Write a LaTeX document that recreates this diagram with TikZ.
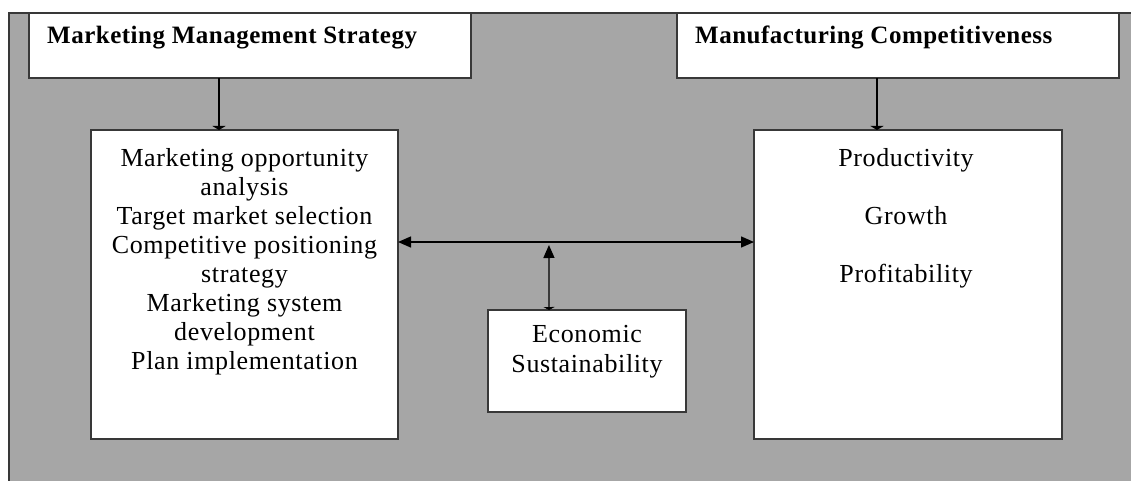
\documentclass[tikz,border=0pt]{standalone}
\usepackage{fontspec}
\setmainfont{Liberation Serif}
\newfontfamily\bodyfont{Liberation Serif}[LetterSpace=2.4]
\newfontfamily\headfont{Liberation Serif}[LetterSpace=2.0]
\usetikzlibrary{arrows.meta,calc}
\definecolor{panel}{HTML}{A6A6A6}
\definecolor{edge}{HTML}{383838}
\tikzset{
  box/.style={draw=edge, line width=1.6pt, fill=white, inner sep=0pt, outer sep=0pt, anchor=north west},
  body/.style={font=\bodyfont\fontsize{26}{29}\selectfont, align=center, inner sep=0pt, anchor=north},
  heading/.style={font=\headfont\bfseries\fontsize{25}{29}\selectfont, inner sep=0pt, anchor=base west},
  link/.style={line width=1.4pt, draw=black},
  bighead/.tip={Triangle[length=13pt,width=11pt]},
  stubhead/.tip={Triangle[length=4pt,width=13pt]},
  basehead/.tip={Triangle[length=3pt,width=11pt]},
}
\begin{document}
\begin{tikzpicture}[x=1pt,y=-1pt]
\useasboundingbox (0,0) rectangle (1131,481);

% grey panel with its top and left border
\fill[panel] (9,13) rectangle (1131,481);
\draw[edge, line width=1.6pt] (9,481) -- (9,13) -- (1131,13);

% boxes
\node[box, minimum width=442pt, minimum height=65pt] (mms) at (29,13) {};
\node[box, minimum width=442pt, minimum height=65pt] (mc) at (677,13) {};
\node[box, minimum width=307pt, minimum height=309pt] (lb) at (91,130) {};
\node[box, minimum width=308pt, minimum height=309pt] (rb) at (754,130) {};
\node[box, minimum width=198pt, minimum height=102pt] (econ) at (488,310) {};

% headings
\node[heading] (mmsT) at (47,44) {Marketing Management Strategy};
\node[heading] (mcT) at (695,44) {Manufacturing Competitiveness};

% box contents
\node[body] (lbT) at (244.5,148) {Marketing opportunity\\analysis\\Target market selection\\Competitive positioning\\strategy\\Marketing system\\development\\Plan implementation};
\node[body] (rbT) at (906,148) {Productivity\\[29pt]Growth\\[29pt]Profitability};
\node[body, font=\bodyfont\fontsize{26}{30.5}\selectfont] (econT) at (587,325) {Economic\\Sustainability};

% connectors
\draw[link, -stubhead] ([xshift=-31pt]mms.south) -- ([xshift=-25.5pt]lb.north);
\draw[link, -stubhead] ([xshift=-21pt]mc.south) -- ([xshift=-31pt]rb.north);
\draw[link, bighead-bighead] ([yshift=42.5pt]lb.east) -- coordinate[pos=0.424] (hub) ([yshift=42.5pt]rb.west);
\draw[link, basehead-bighead] ([xshift=-38pt]econ.north) -- ([yshift=-3pt]hub);
\end{tikzpicture}
\end{document}
